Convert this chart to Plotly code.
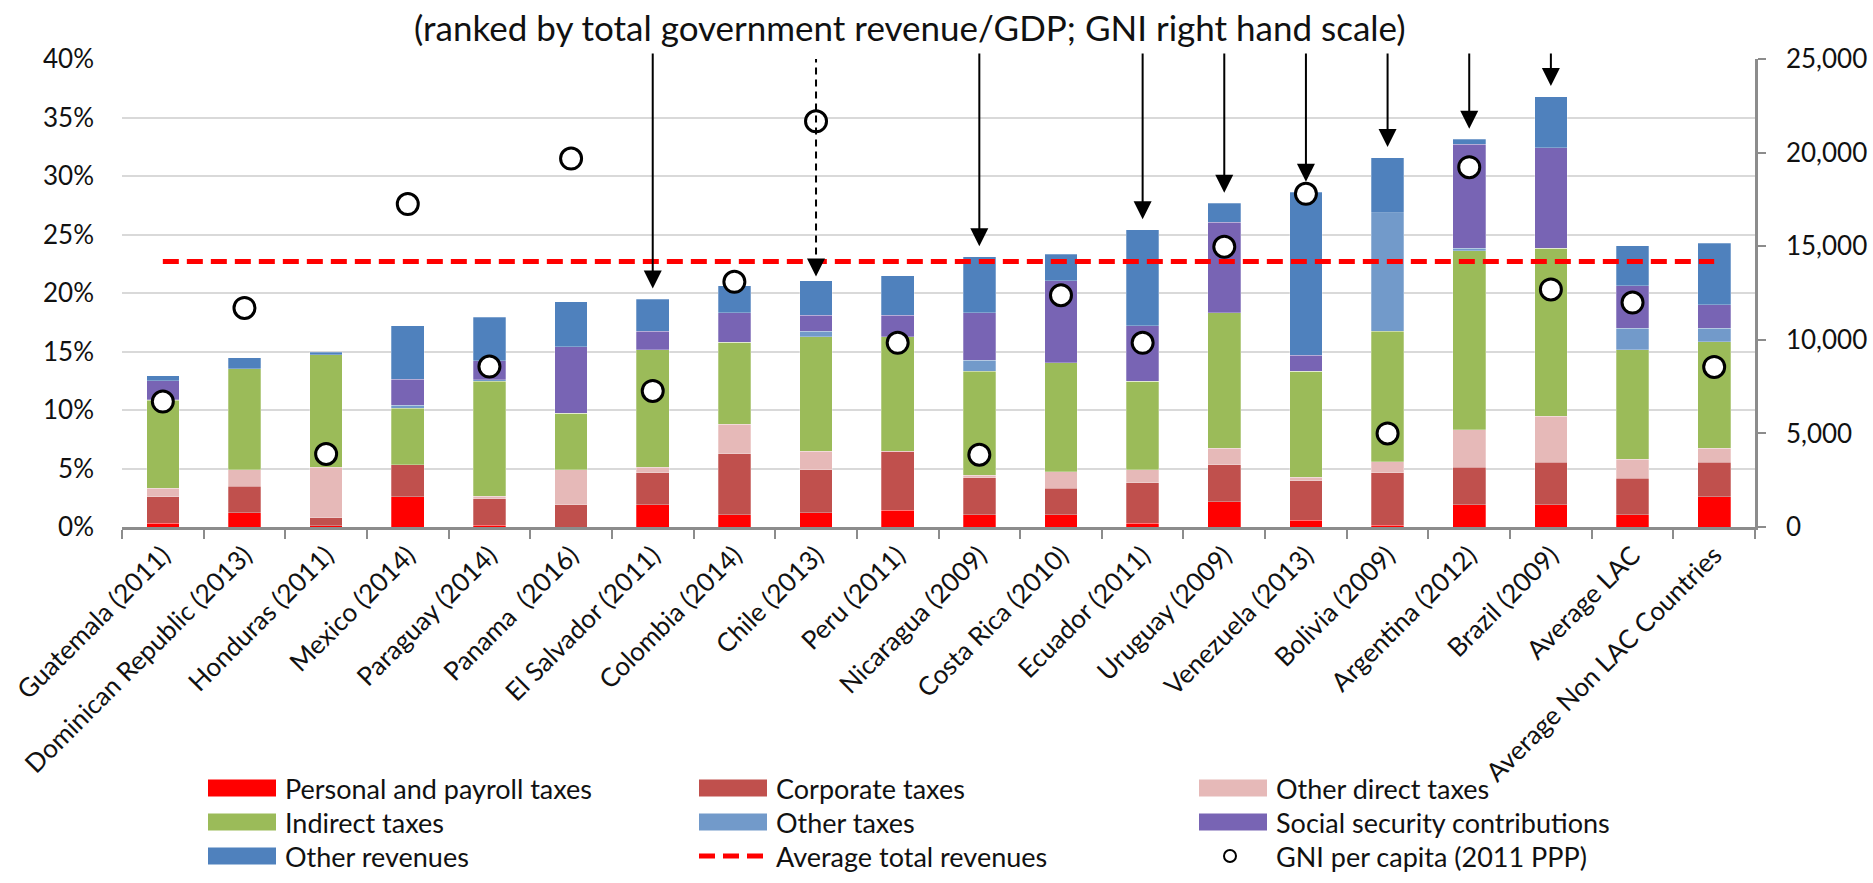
import plotly.graph_objects as go

# ---- data (shares of GDP, %) ----
countries = [
    "Guatemala (2011)", "Dominican Republic (2013)", "Honduras (2011)", "Mexico (2014)",
    "Paraguay (2014)", "Panama  (2016)", "El Salvador (2011)", "Colombia (2014)",
    "Chile (2013)", "Peru (2011)", "Nicaragua (2009)", "Costa Rica (2010)",
    "Ecuador (2011)", "Uruguay (2009)", "Venezuela (2013)", "Bolivia (2009)",
    "Argentina (2012)", "Brazil (2009)", "Average LAC", "Average Non LAC Countries",
]
personal_payroll = [0.32, 1.21, 0.12, 2.59, 0.15, 0.00, 1.91, 1.03, 1.21, 1.44,
                    1.03, 1.03, 0.32, 2.15, 0.56, 0.15, 1.91, 1.91, 1.03, 2.59]
corporate = [2.27, 2.29, 0.67, 2.74, 2.26, 1.91, 2.74, 5.21, 3.68, 5.03,
             3.18, 2.27, 3.45, 3.18, 3.38, 4.50, 3.21, 3.62, 3.15, 2.94]
other_direct = [0.74, 1.41, 4.33, 0.00, 0.24, 2.98, 0.47, 2.56, 1.58, 0.00,
                0.23, 1.41, 1.14, 1.41, 0.30, 0.94, 3.21, 3.95, 1.62, 1.18]
indirect = [7.50, 8.63, 9.59, 4.82, 9.80, 4.82, 10.04, 7.00, 9.80, 9.80,
            8.89, 9.33, 7.54, 11.59, 9.09, 11.13, 15.27, 14.36, 9.36, 9.12]
other_taxes = [0.05, 0.00, 0.00, 0.24, 0.15, 0.00, 0.00, 0.00, 0.45, 0.00,
               0.94, 0.00, 0.00, 0.00, 0.00, 10.12, 0.24, 0.00, 1.82, 1.15]
social_security = [1.62, 0.00, 0.00, 2.24, 1.61, 5.68, 1.56, 2.51, 1.38, 1.83,
                   4.06, 7.00, 4.77, 7.71, 1.36, 0.00, 8.86, 8.59, 3.65, 2.03]
other_revenues = [0.41, 0.94, 0.24, 4.59, 3.71, 3.86, 2.76, 2.29, 2.94, 3.38,
                  4.77, 2.27, 8.18, 1.62, 13.91, 4.74, 0.44, 4.36, 3.41, 5.24]
gni_per_capita = [6700, 11700, 3900, 17250, 8570, 19680, 7270, 13100, 21670, 9840,
                  3860, 12380, 9840, 14970, 17800, 5000, 19220, 12690, 11990, 8550]
average_total_revenue = 22.7

arrow_solid = ["El Salvador (2011)", "Nicaragua (2009)", "Ecuador (2011)", "Uruguay (2009)",
               "Venezuela (2013)", "Bolivia (2009)", "Argentina (2012)", "Brazil (2009)"]
arrow_dashed = ["Chile (2013)"]

series = [
    ("Personal and payroll taxes", personal_payroll, "#FF0000"),
    ("Corporate taxes", corporate, "#C0504D"),
    ("Other direct taxes", other_direct, "#E6B9B8"),
    ("Indirect taxes", indirect, "#9BBB59"),
    ("Other taxes", other_taxes, "#729ACA"),
    ("Social security contributions", social_security, "#7864B4"),
    ("Other revenues", other_revenues, "#4F81BD"),
]

# ---- layout geometry (px) ----
W, H = 1873, 883
PL, PR, PT, PB = 122, 1755, 59, 527
FONT = "Lato"
TXT = "#111111"
GRAY = "#8C8C8C"


def px_x(x):
    return (x - PL) / (PR - PL)


def px_y(y):
    return (PB - y) / (PB - PT)


fig = go.Figure()

for name, vals, color in series:
    fig.add_trace(go.Bar(
        x=countries, y=vals, name=name, marker_color=color,
        marker_line=dict(color="rgba(255,255,255,0.45)", width=0.6),
        showlegend=False,
    ))

fig.add_trace(go.Scatter(
    x=countries, y=[average_total_revenue] * len(countries), mode="lines",
    name="Average total revenues", line=dict(color="#FF0000", width=5, dash="16px,8px"),
    showlegend=False,
))

fig.add_trace(go.Scatter(
    x=countries, y=gni_per_capita, mode="markers", yaxis="y2",
    name="GNI per capita (2011 PPP)",
    marker=dict(symbol="circle", size=21, color="white", line=dict(color="black", width=3)),
    showlegend=False,
))

totals = [sum(v[i] for _, v, _ in series) for i in range(len(countries))]
total_of = dict(zip(countries, totals))
arrow_top = 40.6
arrow_gap = 0.9

for c in arrow_solid:
    fig.add_annotation(
        x=c, y=total_of[c] + arrow_gap, ax=c, ay=arrow_top, xref="x", yref="y",
        axref="x", ayref="y", showarrow=True, arrowhead=2, arrowsize=1.8,
        arrowwidth=2, arrowcolor="black", text="",
    )
for c in arrow_dashed:
    tip = total_of[c] + arrow_gap * 0.4
    fig.add_shape(type="line", xref="x", yref="y", x0=c, x1=c, y0=arrow_top - 0.3, y1=tip + 1.5,
                  line=dict(color="black", width=2, dash="7px,5px"))
    fig.add_annotation(
        x=c, y=tip, ax=c, ay=tip + 1.6, xref="x", yref="y",
        axref="x", ayref="y", showarrow=True, arrowhead=2, arrowsize=1.8,
        arrowwidth=2, arrowcolor="black", text="",
    )

fig.add_annotation(
    text="(ranked by total government revenue/GDP; GNI right hand scale)",
    xref="paper", yref="paper", x=px_x(910), y=px_y(27), showarrow=False,
    font=dict(family=FONT, size=35, color=TXT), xanchor="center", yanchor="middle",
)

# ---- legend drawn as swatches and labels, three columns ----
legend_entries = [(n, c, "bar") for n, _, c in series] + [
    ("Average total revenues", "#FF0000", "line"),
    ("GNI per capita (2011 PPP)", "black", "circle"),
]
col_x = [208, 699, 1199]
row_y = [788, 822, 856]
sw_w, sw_h = 68, 17
for i, (name, color, kind) in enumerate(legend_entries):
    cx, cy = col_x[i % 3], row_y[i // 3]
    if kind == "bar":
        fig.add_shape(type="rect", xref="paper", yref="paper",
                      x0=px_x(cx), x1=px_x(cx + sw_w), y0=px_y(cy + sw_h / 2), y1=px_y(cy - sw_h / 2),
                      fillcolor=color, line=dict(width=0))
    elif kind == "line":
        fig.add_shape(type="line", xref="paper", yref="paper",
                      x0=px_x(cx), x1=px_x(cx + sw_w), y0=px_y(cy), y1=px_y(cy),
                      line=dict(color=color, width=5, dash="16px,8px"))
    else:
        r = 6
        mx = cx + 31
        fig.add_shape(type="circle", xref="paper", yref="paper",
                      x0=px_x(mx - r), x1=px_x(mx + r), y0=px_y(cy + r), y1=px_y(cy - r),
                      fillcolor="white", line=dict(color=color, width=2))
    fig.add_annotation(text=name, xref="paper", yref="paper", x=px_x(cx + sw_w + 7), y=px_y(cy),
                       xanchor="left", yanchor="middle", showarrow=False,
                       font=dict(family=FONT, size=27, color=TXT))

n = len(countries)
boundaries = [i - 0.5 for i in range(n + 1)]
centers = list(range(n))
overlay_common = dict(overlaying="x", anchor="y", range=[-0.5, n - 0.5], tickmode="array",
                      tickwidth=2, tickcolor=GRAY, showticklabels=False, showgrid=False,
                      showline=False, zeroline=False, automargin=False)

fig.update_layout(
    width=W, height=H,
    margin=dict(l=PL, r=W - PR, t=PT, b=H - PB, autoexpand=False),
    paper_bgcolor="white", plot_bgcolor="white",
    barmode="stack", bargap=0.6,
    font=dict(family=FONT, size=26, color=TXT),
    showlegend=False,
    xaxis=dict(
        type="category", categoryorder="array", categoryarray=countries,
        range=[-0.5, n - 0.5], tickangle=-45, tickfont=dict(size=26),
        showline=True, linecolor=GRAY, linewidth=2.5, automargin=False,
        ticks="outside", tickson="boundaries", ticklen=9, tickwidth=2, tickcolor=GRAY,
        showgrid=False,
    ),
    xaxis2=dict(tickvals=boundaries, ticks="inside", ticklen=8, **overlay_common),
    xaxis3=dict(tickvals=centers, ticks="outside", ticklen=6, **overlay_common),
    xaxis4=dict(tickvals=centers, ticks="inside", ticklen=6, **overlay_common),
    yaxis=dict(
        range=[0, 40], dtick=5, ticksuffix="%", showgrid=True, gridcolor="#D9D9D9", gridwidth=1.5,
        zeroline=False, showline=False, ticks="", tickfont=dict(size=26), ticklabelstandoff=27,
        automargin=False,
    ),
    yaxis2=dict(
        range=[0, 25000], dtick=5000, tickformat=",", overlaying="y", side="right",
        showgrid=False, zeroline=False, showline=True, linecolor=GRAY, linewidth=2.5,
        ticks="outside", ticklen=8, tickwidth=2, tickcolor=GRAY, tickfont=dict(size=26),
        ticklabelstandoff=15, automargin=False,
    ),
)

fig.write_html("out.html")
